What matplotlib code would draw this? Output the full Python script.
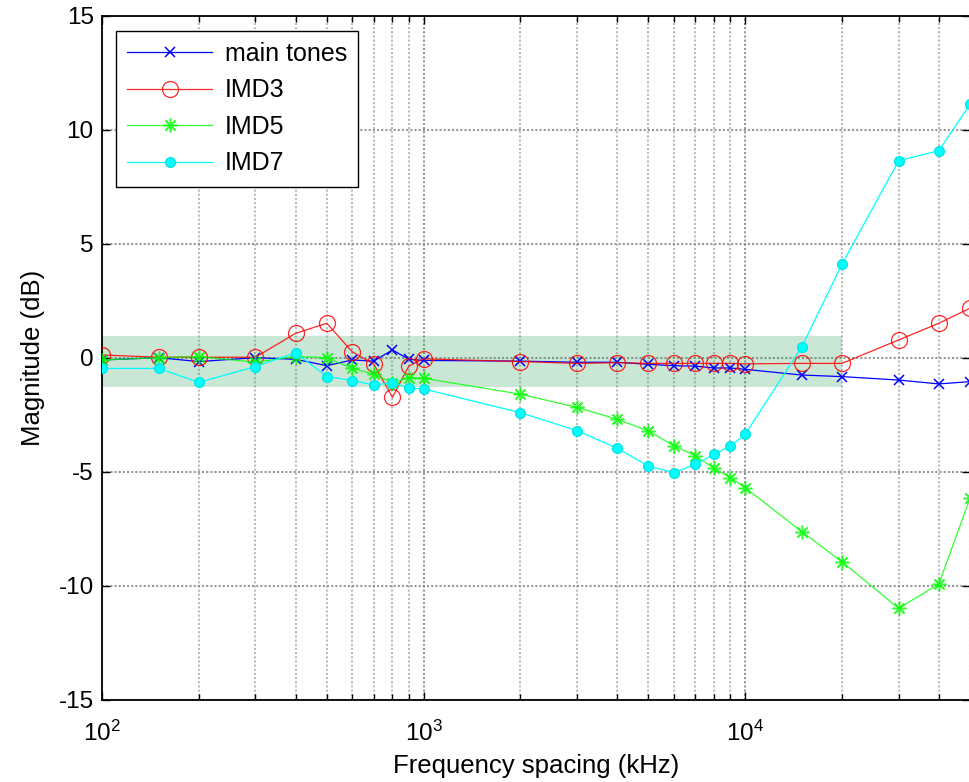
import numpy as np
import matplotlib
matplotlib.use("Agg")
import matplotlib.pyplot as plt
from matplotlib.ticker import LogLocator, FixedLocator, NullFormatter

plt.rcParams['font.family'] = ['Liberation Sans', 'DejaVu Sans']
plt.rcParams['axes.unicode_minus'] = False

# Tone spacing (kHz)
freq_khz = [100, 150, 200, 300, 400, 500, 600, 700, 800, 900, 1000,
            2000, 3000, 4000, 5000, 6000, 7000, 8000, 9000, 10000,
            15000, 20000, 30000, 40000, 50000]

# Normalised magnitudes (dB)
main_tones = [-0.10, 0.00, -0.17, 0.00, -0.07, -0.35, -0.10, -0.15, 0.34, -0.07, -0.12,
              -0.15, -0.20, -0.20, -0.29, -0.35, -0.37, -0.45, -0.45, -0.51,
              -0.76, -0.83, -0.98, -1.15, -1.05]
imd3 = [0.12, 0.02, 0.02, 0.02, 1.07, 1.51, 0.26, -0.28, -1.74, -0.36, -0.05,
        -0.17, -0.25, -0.22, -0.25, -0.25, -0.25, -0.25, -0.25, -0.27,
        -0.25, -0.25, 0.78, 1.51, 2.17]
imd5 = [-0.10, 0.00, 0.05, -0.20, 0.05, 0.00, -0.47, -0.72, -1.10, -0.88, -0.90,
        -1.60, -2.18, -2.70, -3.21, -3.86, -4.30, -4.85, -5.26, -5.70,
        -7.63, -8.95, -10.99, -9.93, -6.17]
imd7 = [-0.47, -0.47, -1.08, -0.39, 0.22, -0.83, -1.00, -1.20, -1.10, -1.34, -1.37,
        -2.41, -3.20, -3.97, -4.75, -5.04, -4.68, -4.24, -3.87, -3.36,
        0.48, 4.10, 8.64, 9.08, 11.11]

# Tolerance band
band_lo, band_hi = -1.27, 0.95
band_x = [100, 20000]

fig = plt.figure(figsize=(9.69, 7.82), dpi=100)
ax = fig.add_axes([102/969, 82.3/782, (969 - 102)/969 + 0.001, 684/782])

ax.fill_between(band_x, band_lo, band_hi, color='#2ca05a', alpha=0.25,
                linewidth=0, zorder=1)

ax.plot(freq_khz, main_tones, color='#0000ff', lw=0.9, marker='x', ms=6.5,
        mew=1.1, label='main tones', zorder=3)
ax.plot(freq_khz, imd3, color='#ff0000', lw=0.9, marker='o', ms=11.5,
        mfc='none', mew=0.9, label='IMD3', zorder=3, alpha=0.85)
ax.plot(freq_khz, imd5, color='#00ff00', lw=0.9, marker=(8, 2, 0), ms=10,
        mew=1.1, label='IMD5', zorder=3, alpha=0.8)
ax.plot(freq_khz, imd7, color='#00ffff', lw=0.9, marker='o', ms=7,
        mec='#00e5e5', label='IMD7', zorder=3)

ax.set_xscale('log')
ax.set_xlim(100, 50000)
ax.set_ylim(-15, 15)
ax.set_yticks([-15, -10, -5, 0, 5, 10, 15])
ax.xaxis.set_major_locator(FixedLocator([1e2, 1e3, 1e4]))
ax.xaxis.set_minor_locator(LogLocator(base=10, subs=np.arange(2, 10), numticks=20))
ax.xaxis.set_minor_formatter(NullFormatter())

ax.grid(True, which='major', axis='both', color='#7f7f7f', ls=(0, (1, 1)), lw=1.5, alpha=0.8, zorder=0)
ax.grid(True, which='minor', axis='x', color='#a0a0a0', ls=(0, (1, 1)), lw=1.5, alpha=0.7, zorder=0)
ax.set_axisbelow(True)

ax.tick_params(which='both', direction='in', top=True, right=True,
               labelsize=17.5, width=1.0, color='black')
ax.tick_params(axis='y', pad=6)
ax.tick_params(axis='x', pad=15)
ax.tick_params(which='major', length=6)
ax.tick_params(which='minor', length=4)
for s in ax.spines.values():
    s.set_linewidth(1.3)

ax.set_xlabel('Frequency spacing (kHz)', fontsize=18.5, labelpad=6)
ax.set_ylabel('Magnitude (dB)', fontsize=18.5, labelpad=10)

leg = ax.legend(loc='upper left', bbox_to_anchor=(0.016, 0.978), fontsize=18,
                frameon=True, fancybox=False, edgecolor='black', framealpha=1,
                borderpad=0.45, handlelength=3.4, handletextpad=0.5,
                labelspacing=0.5, borderaxespad=0)
leg.get_frame().set_linewidth(1.0)

fig.savefig('out.png', dpi=100)
